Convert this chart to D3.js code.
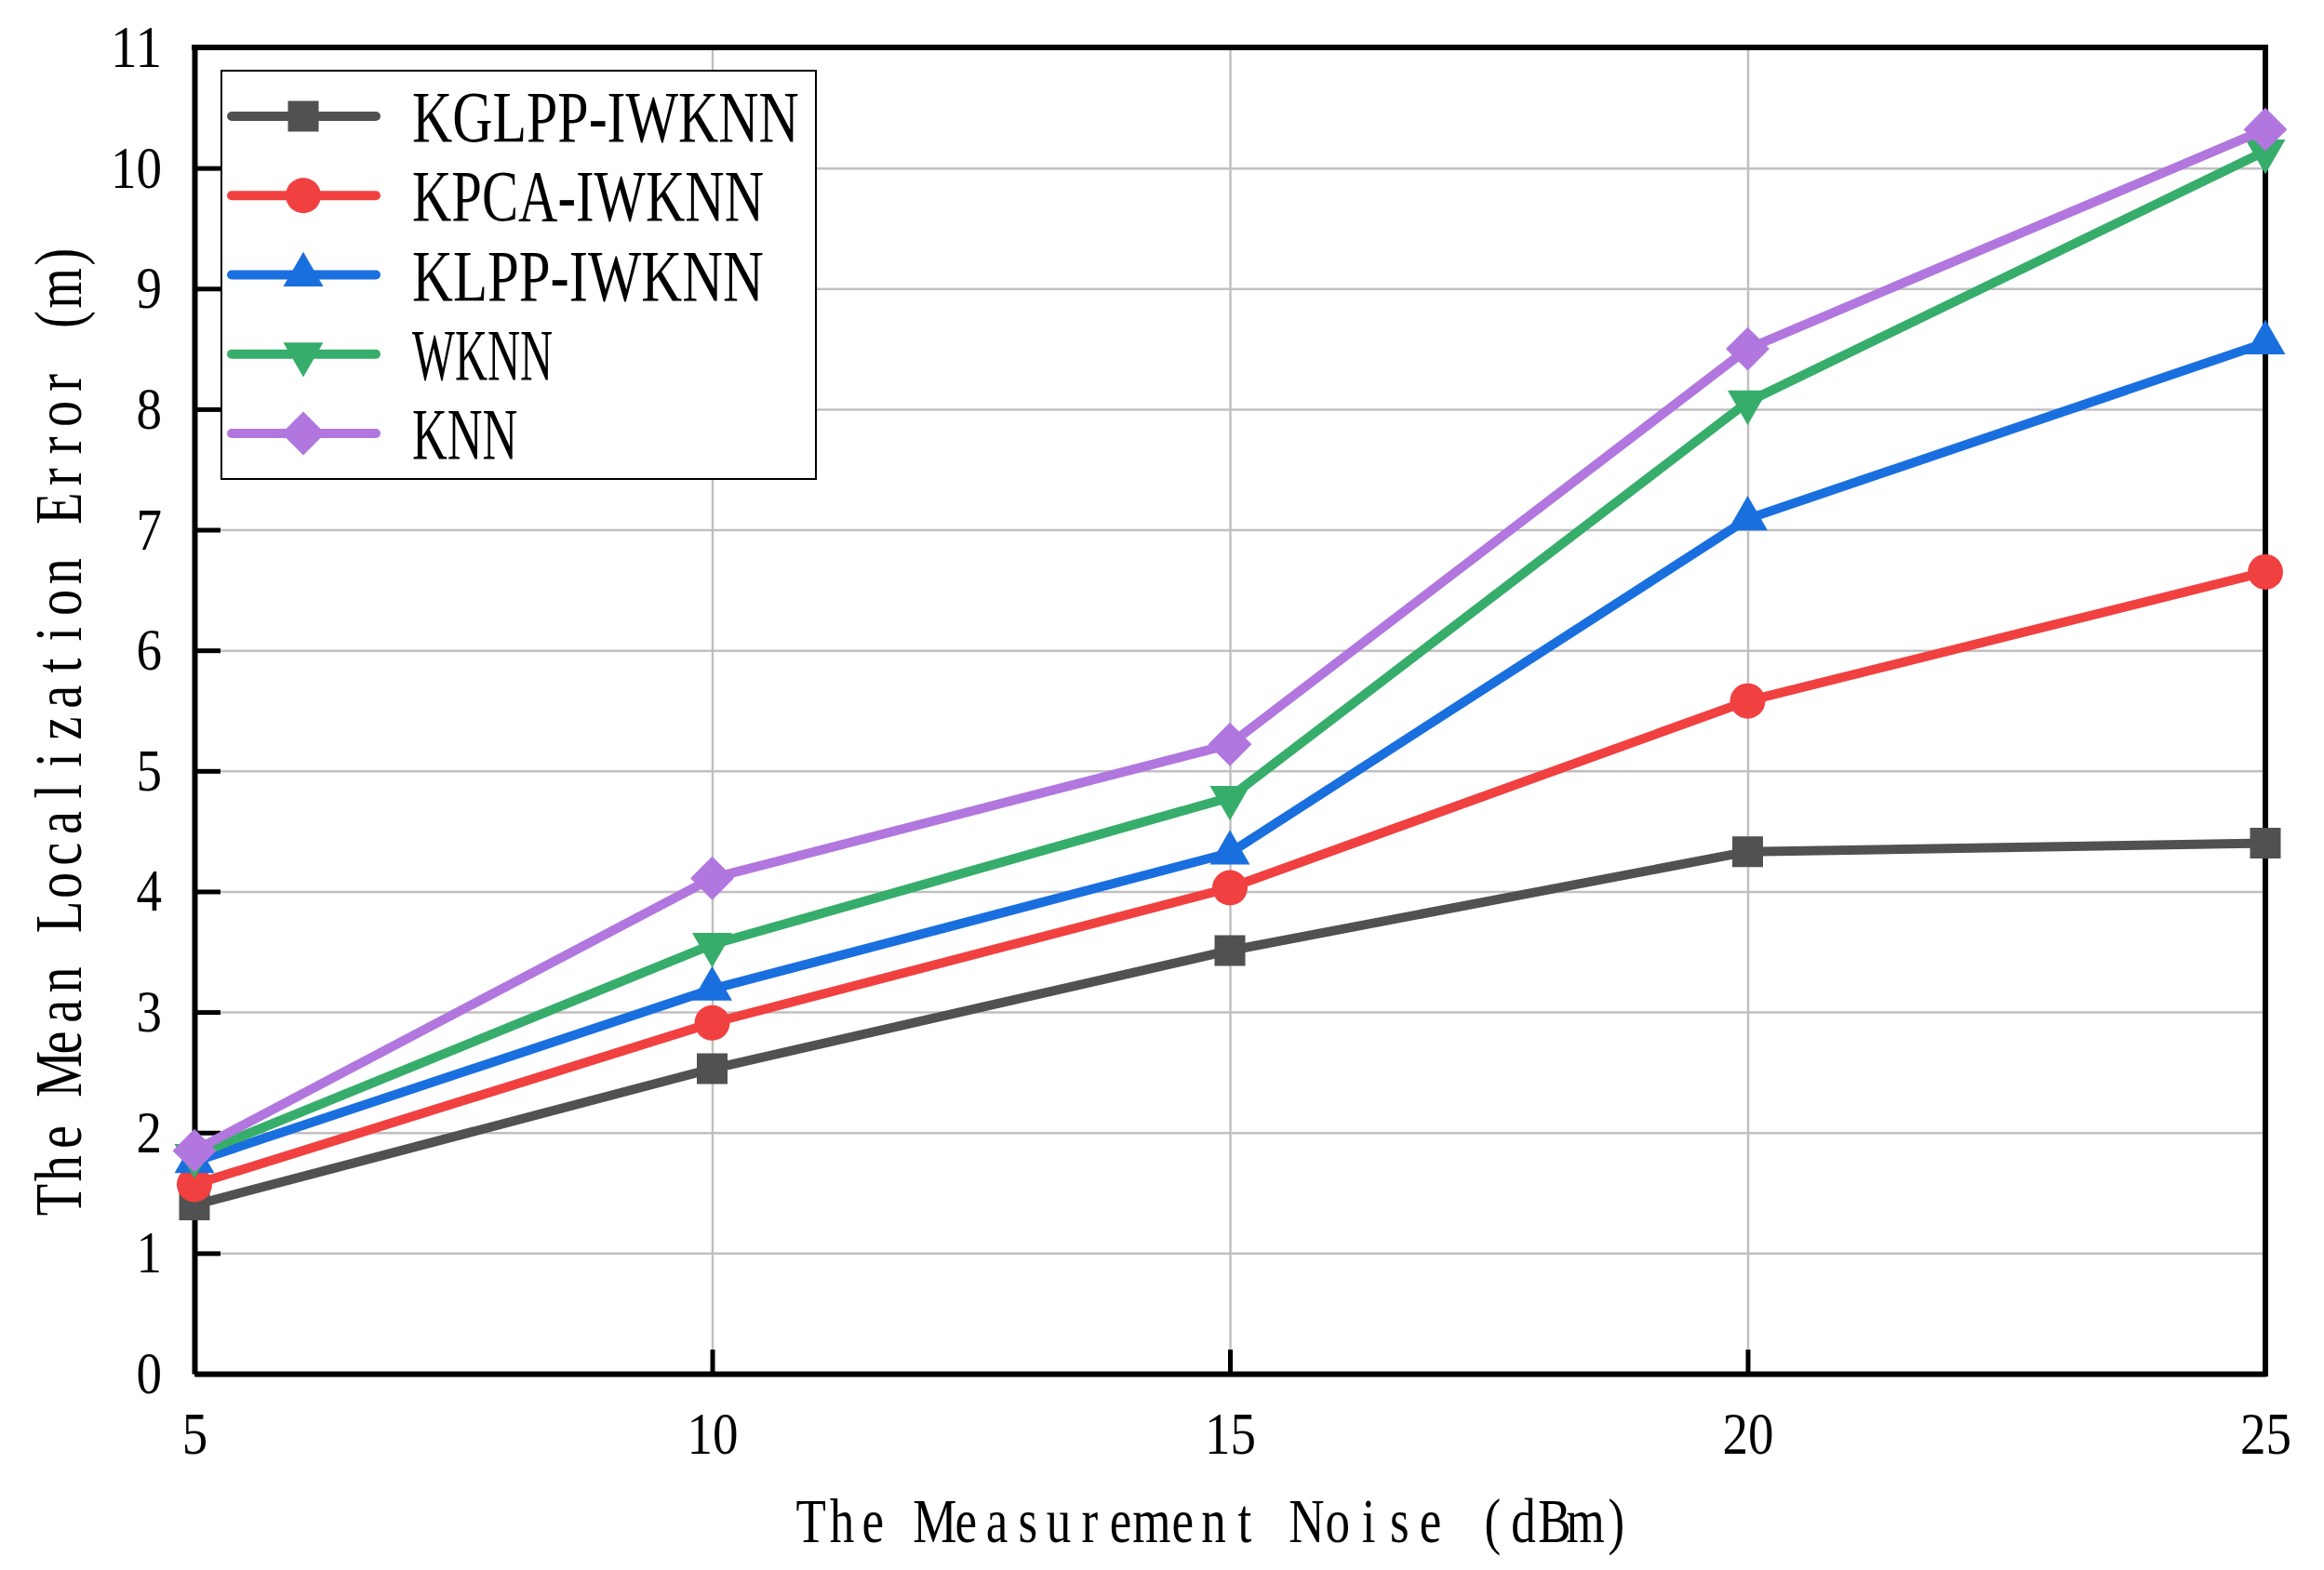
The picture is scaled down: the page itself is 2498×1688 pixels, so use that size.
<!DOCTYPE html>
<html>
<head>
<meta charset="utf-8">
<script src="https://cdn.jsdelivr.net/npm/d3@7"></script>
<style>
  html, body { margin: 0; padding: 0; background: #fff; }
  text { font-family: "Liberation Serif", serif; fill: #000; white-space: pre; }
</style>
</head>
<body>
<div class="plot"></div>
<script>
// data
const noise = [5, 10, 15, 20, 25];
const names = ["KGLPP-IWKNN", "KPCA-IWKNN", "KLPP-IWKNN", "WKNN", "KNN"];
const kglpp = [1.40, 2.53, 3.51, 4.33, 4.40];
const kpca  = [1.57, 2.91, 4.03, 5.58, 6.65];
const klpp  = [1.76, 3.19, 4.32, 7.09, 8.55];
const wknn  = [1.81, 3.56, 4.78, 8.06, 10.14];
const knn   = [1.85, 4.11, 5.22, 8.50, 10.32];
const xTicks = [5, 10, 15, 20, 25];
const yTicks = [0, 1, 2, 3, 4, 5, 6, 7, 8, 9, 10, 11];
const xTitle = "The Measurement Noise (dBm)";
const yTitle = "The Mean Localization Error (m)";

const colors = ["#515151", "#F14040", "#1A6FDF", "#37AD6B", "#B177DE"];
const allSeries = [kglpp, kpca, klpp, wknn, knn];

const width = 2498, height = 1688,
    plotLeft = 209, plotRight = 2435, plotTop = 51, plotBottom = 1477;

const svg = d3.select(".plot").append("svg")
    .attr("width", width)
    .attr("height", height);

const xScale = d3.scaleLinear().domain([5, 25]).range([plotLeft, plotRight]);
const yScale = d3.scaleLinear().domain([0, 11]).range([plotBottom, plotTop]);

// the original font is a fixed-pitch serif: put every character in its own cell
function monoX(str, x0, cell, sx) {
    return d3.range(str.length).map(i => ((x0 + (i + 0.5) * cell) / sx).toFixed(1)).join(" ");
}

// grid
svg.append("g")
    .attr("transform", "translate(0," + plotBottom + ")")
    .call(d3.axisBottom(xScale).tickValues(xTicks).tickSize(-(plotBottom - plotTop)).tickFormat(""))
    .call(g => g.select(".domain").remove())
    .selectAll("line").attr("stroke", "#c0c0c0").attr("stroke-width", 2.5);

svg.append("g")
    .attr("transform", "translate(" + plotLeft + ",0)")
    .call(d3.axisLeft(yScale).tickValues(yTicks).tickSize(-(plotRight - plotLeft)).tickFormat(""))
    .call(g => g.select(".domain").remove())
    .selectAll("line").attr("stroke", "#c0c0c0").attr("stroke-width", 2.5);

// axes
const xAxis = svg.append("g")
    .attr("transform", "translate(0," + plotBottom + ")")
    .call(d3.axisBottom(xScale).tickValues(xTicks).tickSizeInner(-26).tickSizeOuter(0).tickPadding(41));
const yAxis = svg.append("g")
    .attr("transform", "translate(" + plotLeft + ",0)")
    .call(d3.axisLeft(yScale).tickValues(yTicks).tickSizeInner(-28).tickSizeOuter(0).tickPadding(35));

[xAxis, yAxis].forEach(ax => {
    ax.select(".domain").attr("stroke", "#000").attr("stroke-width", 6);
    ax.selectAll(".tick line").attr("stroke", "#000").attr("stroke-width", 5);
    ax.selectAll(".tick text")
        .attr("font-size", 64)
        .attr("font-family", "Liberation Serif")
        .attr("fill", "#000")
        .attr("textLength", function() { return this.textContent.length * 27.5; })
        .attr("lengthAdjust", "spacingAndGlyphs");
});

// top and right frame
svg.append("line")
    .attr("x1", plotLeft - 3).attr("x2", plotRight + 3)
    .attr("y1", plotTop).attr("y2", plotTop)
    .attr("stroke", "#000").attr("stroke-width", 6);
svg.append("line")
    .attr("x1", plotRight).attr("x2", plotRight)
    .attr("y1", plotTop).attr("y2", plotBottom + 3)
    .attr("stroke", "#000").attr("stroke-width", 6);

// markers
const symbols = [
    d3.symbol().type(d3.symbolSquare).size(1089),
    d3.symbol().type(d3.symbolCircle).size(1134),
    d3.symbol().type(d3.symbolTriangle).size(800),
    d3.symbol().type(d3.symbolTriangle).size(800),
    d3.symbol().type(d3.symbolSquare).size(1100)
];
const rotations = [0, 0, 0, 180, 45];

const line = d3.line()
    .x((d, i) => xScale(noise[i]))
    .y(d => yScale(d));

allSeries.forEach((vals, k) => {
    const g = svg.append("g");
    g.append("path")
        .attr("d", line(vals))
        .attr("fill", "none")
        .attr("stroke", colors[k])
        .attr("stroke-width", 10)
        .attr("stroke-linejoin", "round");
    g.selectAll("path.mark").data(vals).enter()
        .append("path")
        .attr("class", "mark")
        .attr("d", symbols[k])
        .attr("transform", (d, i) => "translate(" + xScale(noise[i]) + "," + yScale(d) + ") rotate(" + rotations[k] + ")")
        .attr("fill", colors[k]);
});

// legend
const legend = svg.append("g");
legend.append("rect")
    .attr("x", 238).attr("y", 76)
    .attr("width", 639).attr("height", 439)
    .attr("fill", "#fff")
    .attr("stroke", "#000")
    .attr("stroke-width", 2);

const rowY = d3.scaleLinear().domain([0, 4]).range([125, 466]);
names.forEach((name, k) => {
    const cy = rowY(k);
    legend.append("line")
        .attr("x1", 249).attr("x2", 404)
        .attr("y1", cy).attr("y2", cy)
        .attr("stroke", colors[k])
        .attr("stroke-width", 10)
        .attr("stroke-linecap", "round");
    legend.append("path")
        .attr("d", symbols[k])
        .attr("transform", "translate(326," + cy + ") rotate(" + rotations[k] + ")")
        .attr("fill", colors[k]);
    legend.append("text")
        .attr("x", 443)
        .attr("y", cy + 27)
        .attr("font-size", 78)
        .attr("textLength", name.length * 37.8)
        .attr("lengthAdjust", "spacingAndGlyphs")
        .text(name);
});

// axis titles
const titleSx = 0.78;
svg.append("text")
    .attr("transform", "scale(" + titleSx + ",1)")
    .attr("x", monoX(xTitle, 855, 33.3, titleSx))
    .attr("y", 1658)
    .attr("font-size", 68)
    .attr("text-anchor", "middle")
    .text(xTitle);

svg.append("text")
    .attr("transform", "translate(87,1303) rotate(-90) scale(" + titleSx + ",1)")
    .attr("x", monoX(yTitle, -4, 33.8, titleSx))
    .attr("y", 0)
    .attr("font-size", 72)
    .attr("text-anchor", "middle")
    .text(yTitle);
</script>
</body>
</html>
